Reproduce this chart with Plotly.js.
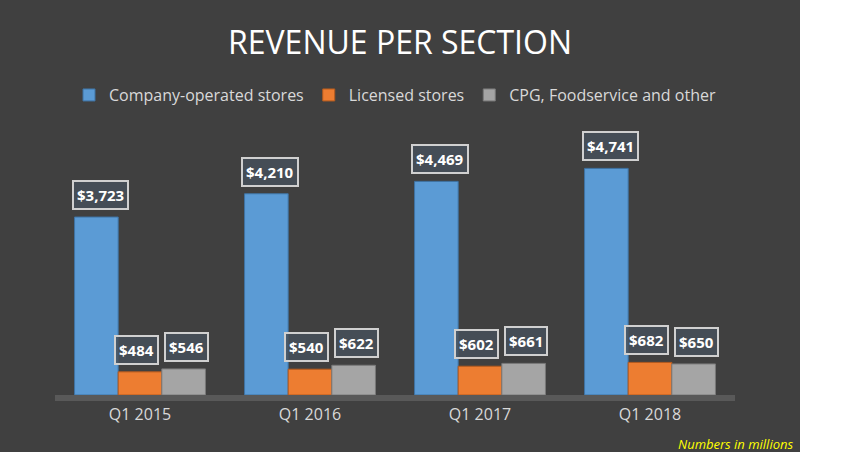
<!DOCTYPE html>
<html>
<head>
<meta charset="utf-8">
<script src="https://cdn.plot.ly/plotly-3.0.1.min.js"></script>
<style>
  body { margin: 0; background: #fff; }
  #chart { width: 800px; height: 452px; }
</style>
</head>
<body>
<div id="chart"></div>
<script>
const quarters = ['Q1 2015', 'Q1 2016', 'Q1 2017', 'Q1 2018'];
const companyStores = [3723, 4210, 4469, 4741];
const licensedStores = [484, 540, 602, 682];
const cpgOther = [546, 622, 661, 650];

const FONT = 'Open Sans, Liberation Sans, sans-serif';

const series = [
    { name: 'Company-operated stores', y: companyStores, color: '#5b9bd5', edge: '#3f73a3', shift: -44, dx: 4 },
    { name: 'Licensed stores', y: licensedStores, color: '#ed7d31', edge: '#b45a1e', shift: 0, dx: -4 },
    { name: 'CPG, Foodservice and other', y: cpgOther, color: '#a5a5a5', edge: '#7a7a7a', shift: 44, dx: 2 }
];

const traces = series.map(s => ({
    type: 'bar', x: quarters, y: s.y, name: s.name,
    marker: { color: s.color, line: { color: s.edge, width: 1 } }
}));

// value labels in boxes above each bar
const annotations = [];
series.forEach(s => {
    s.y.forEach((v, i) => {
        annotations.push({
            x: quarters[i], y: v, xref: 'x', yref: 'y',
            text: '<b>$' + v.toLocaleString('en-US') + '</b>',
            showarrow: false, xshift: s.shift + s.dx, yshift: 22,
            font: { color: '#fff', size: 15, family: FONT },
            bgcolor: 'rgba(70,80,90,0.85)', bordercolor: '#d0d0d0', borderwidth: 2, borderpad: 3
        });
    });
});
annotations.push({
    x: 1, y: 0, xref: 'paper', yref: 'paper', xanchor: 'right', yanchor: 'top',
    xshift: 60, yshift: -38, showarrow: false,
    text: '<i>Numbers in millions</i>',
    font: { color: '#ffff00', size: 13, family: FONT }
});

const layout = {
    paper_bgcolor: '#404040', plot_bgcolor: '#404040',
    font: { family: FONT, color: '#d9d9d9' },
    margin: { t: 156, b: 57, l: 55, r: 65 },
    title: { text: 'REVENUE PER SECTION', x: 0.5, y: 0.905, xanchor: 'center', yanchor: 'middle',
             font: { size: 32, color: '#fff' } },
    barmode: 'group', bargap: 0.23, bargroupgap: 0,
    showlegend: true,
    legend: { orientation: 'h', x: 0.5, xanchor: 'center', y: 1.255, yanchor: 'middle',
              font: { size: 16, color: '#d9d9d9' }, bgcolor: 'rgba(0,0,0,0)' },
    xaxis: { showgrid: false, zeroline: false, tickfont: { size: 16, color: '#d9d9d9' },
             showline: true, linecolor: '#595959', linewidth: 6, ticks: '' },
    yaxis: { visible: false, range: [0, 5000], fixedrange: true },
    annotations: annotations
};

Plotly.newPlot('chart', traces, layout, { displayModeBar: false, staticPlot: true });
</script>
</body>
</html>
